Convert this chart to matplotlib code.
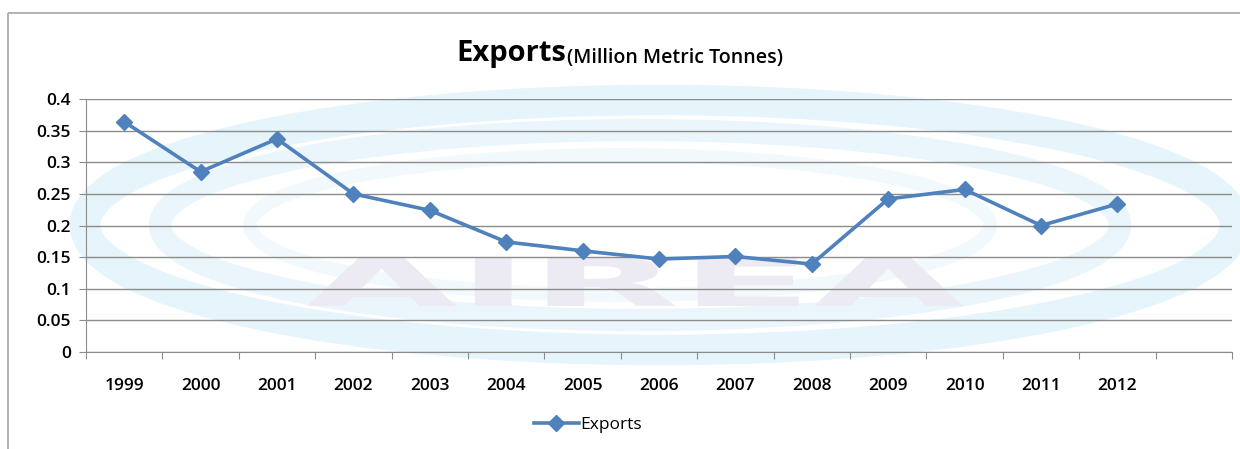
import matplotlib.pyplot as plt
from matplotlib.patches import Rectangle, Ellipse, PathPatch
from matplotlib.lines import Line2D
from matplotlib.textpath import TextPath
from matplotlib.font_manager import FontProperties
from matplotlib.transforms import Affine2D

years = ["1999", "2000", "2001", "2002", "2003", "2004", "2005",
         "2006", "2007", "2008", "2009", "2010", "2011", "2012"]
exports = [0.364, 0.285, 0.337, 0.250, 0.224, 0.174, 0.160,
           0.147, 0.151, 0.139, 0.242, 0.257, 0.200, 0.234]
y_ticks = [0, 0.05, 0.1, 0.15, 0.2, 0.25, 0.3, 0.35, 0.4]
y_labels = ["0", "0.05", "0.1", "0.15", "0.2", "0.25", "0.3", "0.35", "0.4"]

blue = "#4F81BD"
grid_gray = "#8C8C8C"

plt.rcParams["font.family"] = ["Open Sans", "DejaVu Sans"]

fig = plt.figure(figsize=(12.4, 4.49), dpi=100)

# faint background rings and stretched lettering behind the plot
bg = fig.add_axes([0, 0, 1, 1], zorder=0)
bg.set_xlim(0, 1240)
bg.set_ylim(449, 0)
bg.axis("off")
for cx, w, h, lw, a in [(660, 1150, 250, 22, 0.15), (640, 960, 190, 16, 0.12),
                        (620, 740, 140, 10, 0.08)]:
    bg.add_patch(Ellipse((cx, 225), w, h, fill=False, lw=lw, color="#5BB8E8", alpha=a))

tp = TextPath((0, 0), "AIREA", size=10, prop=FontProperties(family="DejaVu Sans", weight="bold"))
ext = tp.get_extents()
sx = (963 - 307) / ext.width
sy = (306 - 257) / ext.height
tr = Affine2D().translate(-ext.x0, -ext.y0).scale(sx, -sy).translate(307, 306)
bg.add_patch(PathPatch(tr.transform_path(tp), fc="#ECEBF3", ec="none"))

bg.add_patch(Rectangle((8, 13), 1300, 500, fill=False, lw=1.2, ec="#A6A6A6"))

ax = fig.add_axes([86 / 1240, 1 - 352 / 449, (1232 - 86) / 1240, (352 - 99) / 449], zorder=1)
ax.patch.set_alpha(0)

n_cat = len(years) + 1
x = [i + 0.5 for i in range(len(years))]
ax.plot(x, exports, color=blue, lw=2.6, marker="D", ms=8, mfc=blue, mec=blue, label="Exports")

ax.set_xlim(0, n_cat)
ax.set_ylim(0, 0.4)
ax.set_yticks(y_ticks)
ax.set_yticklabels(y_labels, fontsize=12.5, fontweight="semibold")
ax.set_xticks(range(n_cat + 1))
ax.set_xticklabels([])
ax.set_xticks(x, minor=True)
ax.set_xticklabels(years, minor=True, fontsize=12.5, fontweight="semibold")
ax.tick_params(axis="x", which="minor", length=0, pad=19)
ax.tick_params(axis="x", which="major", length=5, color=grid_gray)
ax.tick_params(axis="y", length=5, color=grid_gray, pad=6)

ax.grid(axis="y", color=grid_gray, lw=1)
ax.set_axisbelow(True)
for side in ["top", "right"]:
    ax.spines[side].set_visible(False)
for side in ["left", "bottom"]:
    ax.spines[side].set_color(grid_gray)

fig.text(566 / 1240, 1 - 54 / 449, "Exports", fontsize=21, fontweight="bold",
         ha="right", va="center")
fig.text(567 / 1240, 1 - 58 / 449, "(Million Metric Tonnes)", fontsize=14,
         fontweight="semibold", ha="left", va="center")

handle = Line2D([], [], color=blue, lw=2.6, marker="D", ms=8)
fig.legend([handle], ["Exports"], loc="center", bbox_to_anchor=(588 / 1240, 1 - 425 / 449),
           frameon=False, fontsize=12.5, handlelength=2.6, handletextpad=0.1)

fig.savefig("out.png", dpi=100)
